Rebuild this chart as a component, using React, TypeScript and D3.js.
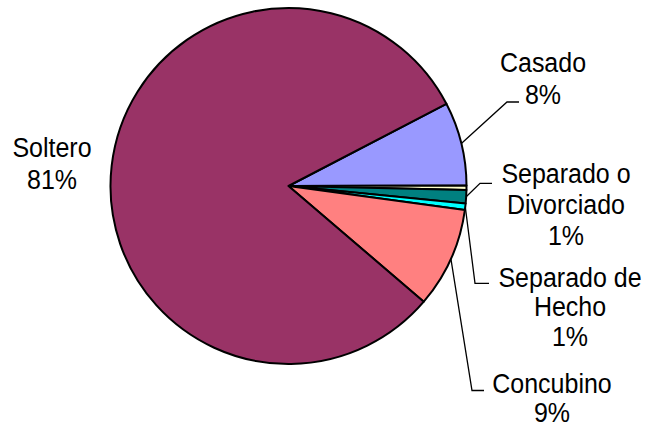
import React from "react";
import * as d3 from "d3";

const categories = ["Casado", "Viudo", "Separado o Divorciado", "Separado de Hecho", "Concubino", "Soltero"];
const values = [7.6, 0.4, 1.2, 0.6, 9.1, 81.1];
const colors = ["#9999FF", "#FFFFCC", "#008080", "#00FFFF", "#FF8080", "#993366"];
const labelLines = [["Casado", "8%"], [], ["Separado o", "Divorciado", "1%"], ["Separado de", "Hecho", "1%"], ["Concubino", "9%"], ["Soltero", "81%"]];

// layout: label centre x, baselines, elbow point, leader end
const labelLayout = [
  { x: 543, ys: [72.3, 104.3], elbow: [507, 102], end: [519, 102] },
  null,
  { x: 566, ys: [183.3, 213.8, 244.5], elbow: [480, 183.3], end: [492, 183.3] },
  { x: 570, ys: [286.7, 315.9, 345.7], elbow: [475, 283.3], end: [489, 283.3] },
  { x: 552, ys: [393, 421.7], elbow: [472, 390.5], end: [484, 390.5] },
  { x: 52, ys: [157.3, 189.3], elbow: null, end: null },
];

const W = 658, H = 431;
const cx = 288.5, cy = 186, R = 178;
const startDeg = 62.5;
const sy = 1.07;

export default function App() {
  const pie = d3
    .pie<number>()
    .sort(null)
    .value((d) => d)
    .startAngle((startDeg * Math.PI) / 180)
    .endAngle((startDeg * Math.PI) / 180 + 2 * Math.PI);
  const arcs = pie(values);
  const arc = d3.arc<d3.PieArcDatum<number>>().innerRadius(0).outerRadius(R);
  return (
    <svg width={W} height={H} style={{ position: "absolute", left: 0, top: 0, background: "#fff" }}>
      <g transform={`translate(${cx},${cy})`}>
        {arcs.map((a, i) => (
          <path key={i} d={arc(a) || ""} fill={colors[i]} stroke="#000" strokeWidth={2} strokeLinejoin="round" />
        ))}
      </g>
      {arcs.map((a, i) => {
        const L = labelLayout[i];
        if (!L || !L.elbow) return null;
        const mid = (a.startAngle + a.endAngle) / 2;
        const sx = cx + R * Math.sin(mid);
        const syy = cy - R * Math.cos(mid);
        return (
          <polyline
            key={"l" + i}
            points={`${sx},${syy} ${L.elbow[0]},${L.elbow[1]} ${L.end![0]},${L.end![1]}`}
            fill="none"
            stroke="#000"
            strokeWidth={1.3}
          />
        );
      })}
      {labelLines.map((lines, i) => {
        const L = labelLayout[i];
        if (!L) return null;
        return (
          <g key={"t" + i}>
            {lines.map((s, j) => (
              <text
                key={j}
                textAnchor="middle"
                fontFamily="'Liberation Sans', Arial, sans-serif"
                fontSize={25}
                fill="#000"
                transform={`translate(${L.x},${L.ys[j]}) scale(1,${sy})`}
              >
                {s}
              </text>
            ))}
          </g>
        );
      })}
    </svg>
  );
}
